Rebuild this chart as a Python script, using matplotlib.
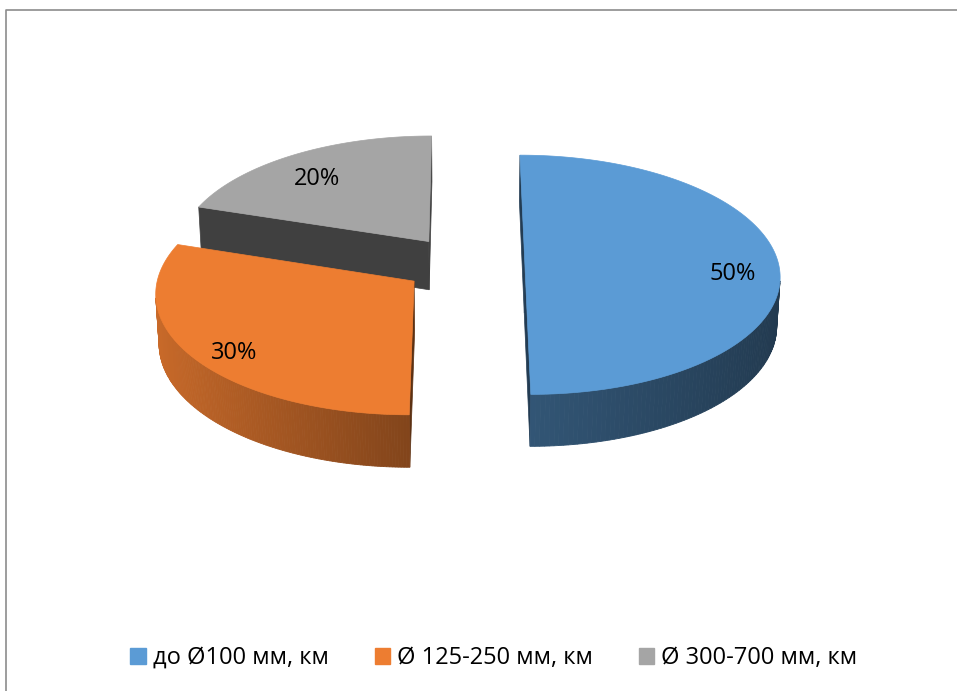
import numpy as np
import matplotlib
matplotlib.use("Agg")
import matplotlib.pyplot as plt
from matplotlib.patches import Polygon, Patch

# ---- data ----
categories = ["до Ø100 мм, км", "Ø 125-250 мм, км", "Ø 300-700 мм, км"]
values = [50, 30, 20]
labels = ["50%", "30%", "20%"]
colors = ["#5B9BD5", "#ED7D31", "#A5A5A5"]

# ---- style / geometry parameters ----
W, HH = 957, 691
F = 251.0          # px per unit radius
DIST = 10.0        # camera distance (perspective)
PHI = np.radians(29)
THK = 0.22         # pie thickness
EXP = 0.24         # explode distance
CX, CY = 464.0, 313.0
FONT = ["Open Sans", "DejaVu Sans"]

s_, c_ = np.sin(PHI), np.cos(PHI)
CAM = np.array([0.0, -DIST * c_])  # camera X,Z


def proj(X, Z, Y):
    depth = DIST + Z * c_ - Y * s_
    k = F * DIST / depth
    return CX + k * X, CY - k * (Z * s_ + Y * c_)


def shade(hexc, f):
    rgb = np.array(matplotlib.colors.to_rgb(hexc)) * f
    return tuple(np.clip(rgb, 0, 1))


fig = plt.figure(figsize=(W / 100, HH / 100), dpi=100)
ax = fig.add_axes([0, 0, 1, 1])
ax.set_xlim(0, W)
ax.set_ylim(HH, 0)
ax.axis("off")

# frame
ax.plot([5.5, 5.5, W + 5], [HH + 5, 9.5, 9.5], color="#8c8c8c", lw=1.2, zorder=1)

total = float(sum(values))
bounds = np.concatenate([[0], np.cumsum(values)]) / total * 2 * np.pi
slices = []
for i in range(len(values)):
    a0, a1 = bounds[i], bounds[i + 1]
    mid = 0.5 * (a0 + a1)
    ox, oz = EXP * np.sin(mid), EXP * np.cos(mid)
    slices.append((i, a0, a1, mid, ox, oz))

slices.sort(key=lambda t: -t[5])
z = 2
for (i, a0, a1, mid, ox, oz) in slices:
    col = colors[i]
    # radial walls
    for ang, nrm in ((a0, (-np.cos(a0), np.sin(a0))), (a1, (np.cos(a1), -np.sin(a1)))):
        p = np.array([ox + 0.5 * np.sin(ang), oz + 0.5 * np.cos(ang)])
        if np.dot(nrm, CAM - p) > 0:
            pts = [proj(ox, oz, THK), proj(ox + np.sin(ang), oz + np.cos(ang), THK),
                   proj(ox + np.sin(ang), oz + np.cos(ang), 0), proj(ox, oz, 0)]
            fc = shade(col, 0.39)
            ax.add_patch(Polygon(pts, closed=True, fc=fc, ec=fc, lw=0.5, zorder=z))
    # curved wall
    th = np.linspace(a0, a1, 181)
    for t1, t2 in zip(th[:-1], th[1:]):
        tm = 0.5 * (t1 + t2)
        nrm = np.array([np.sin(tm), np.cos(tm)])
        p = np.array([ox + np.sin(tm), oz + np.cos(tm)])
        if np.dot(nrm, CAM - p) > 0:
            sn = np.sin(tm)
            f = 0.55 - 0.18 * sn if sn > 0 else 0.55 - 0.30 * sn
            fc = shade(col, f)
            pts = [proj(ox + np.sin(t1), oz + np.cos(t1), THK),
                   proj(ox + np.sin(t2), oz + np.cos(t2), THK),
                   proj(ox + np.sin(t2), oz + np.cos(t2), 0),
                   proj(ox + np.sin(t1), oz + np.cos(t1), 0)]
            ax.add_patch(Polygon(pts, closed=True, fc=fc, ec=fc, lw=0.6, zorder=z))
    z += 1
    # top face
    top = [proj(ox, oz, THK)] + [proj(ox + np.sin(t), oz + np.cos(t), THK) for t in th]
    ax.add_patch(Polygon(top, closed=True, fc=col, ec=col, lw=0.5, zorder=z))
    z += 1
    lx, ly = proj(ox + 0.82 * np.sin(mid), oz + 0.82 * np.cos(mid), 0.8 * THK)
    ax.text(lx, ly, labels[i], ha="center", va="center", fontsize=17,
            family=FONT, color="#000000", zorder=50)

handles = [Patch(facecolor=c, edgecolor=c) for c in colors]
ax.legend(handles, categories, loc="center", bbox_to_anchor=(494 / W, 1 - 658 / HH),
          ncol=3, frameon=False, prop={"family": FONT, "size": 17},
          handlelength=0.65, handleheight=0.65, handletextpad=0.3, columnspacing=1.95)

fig.savefig("out.png", dpi=100, facecolor="white")
